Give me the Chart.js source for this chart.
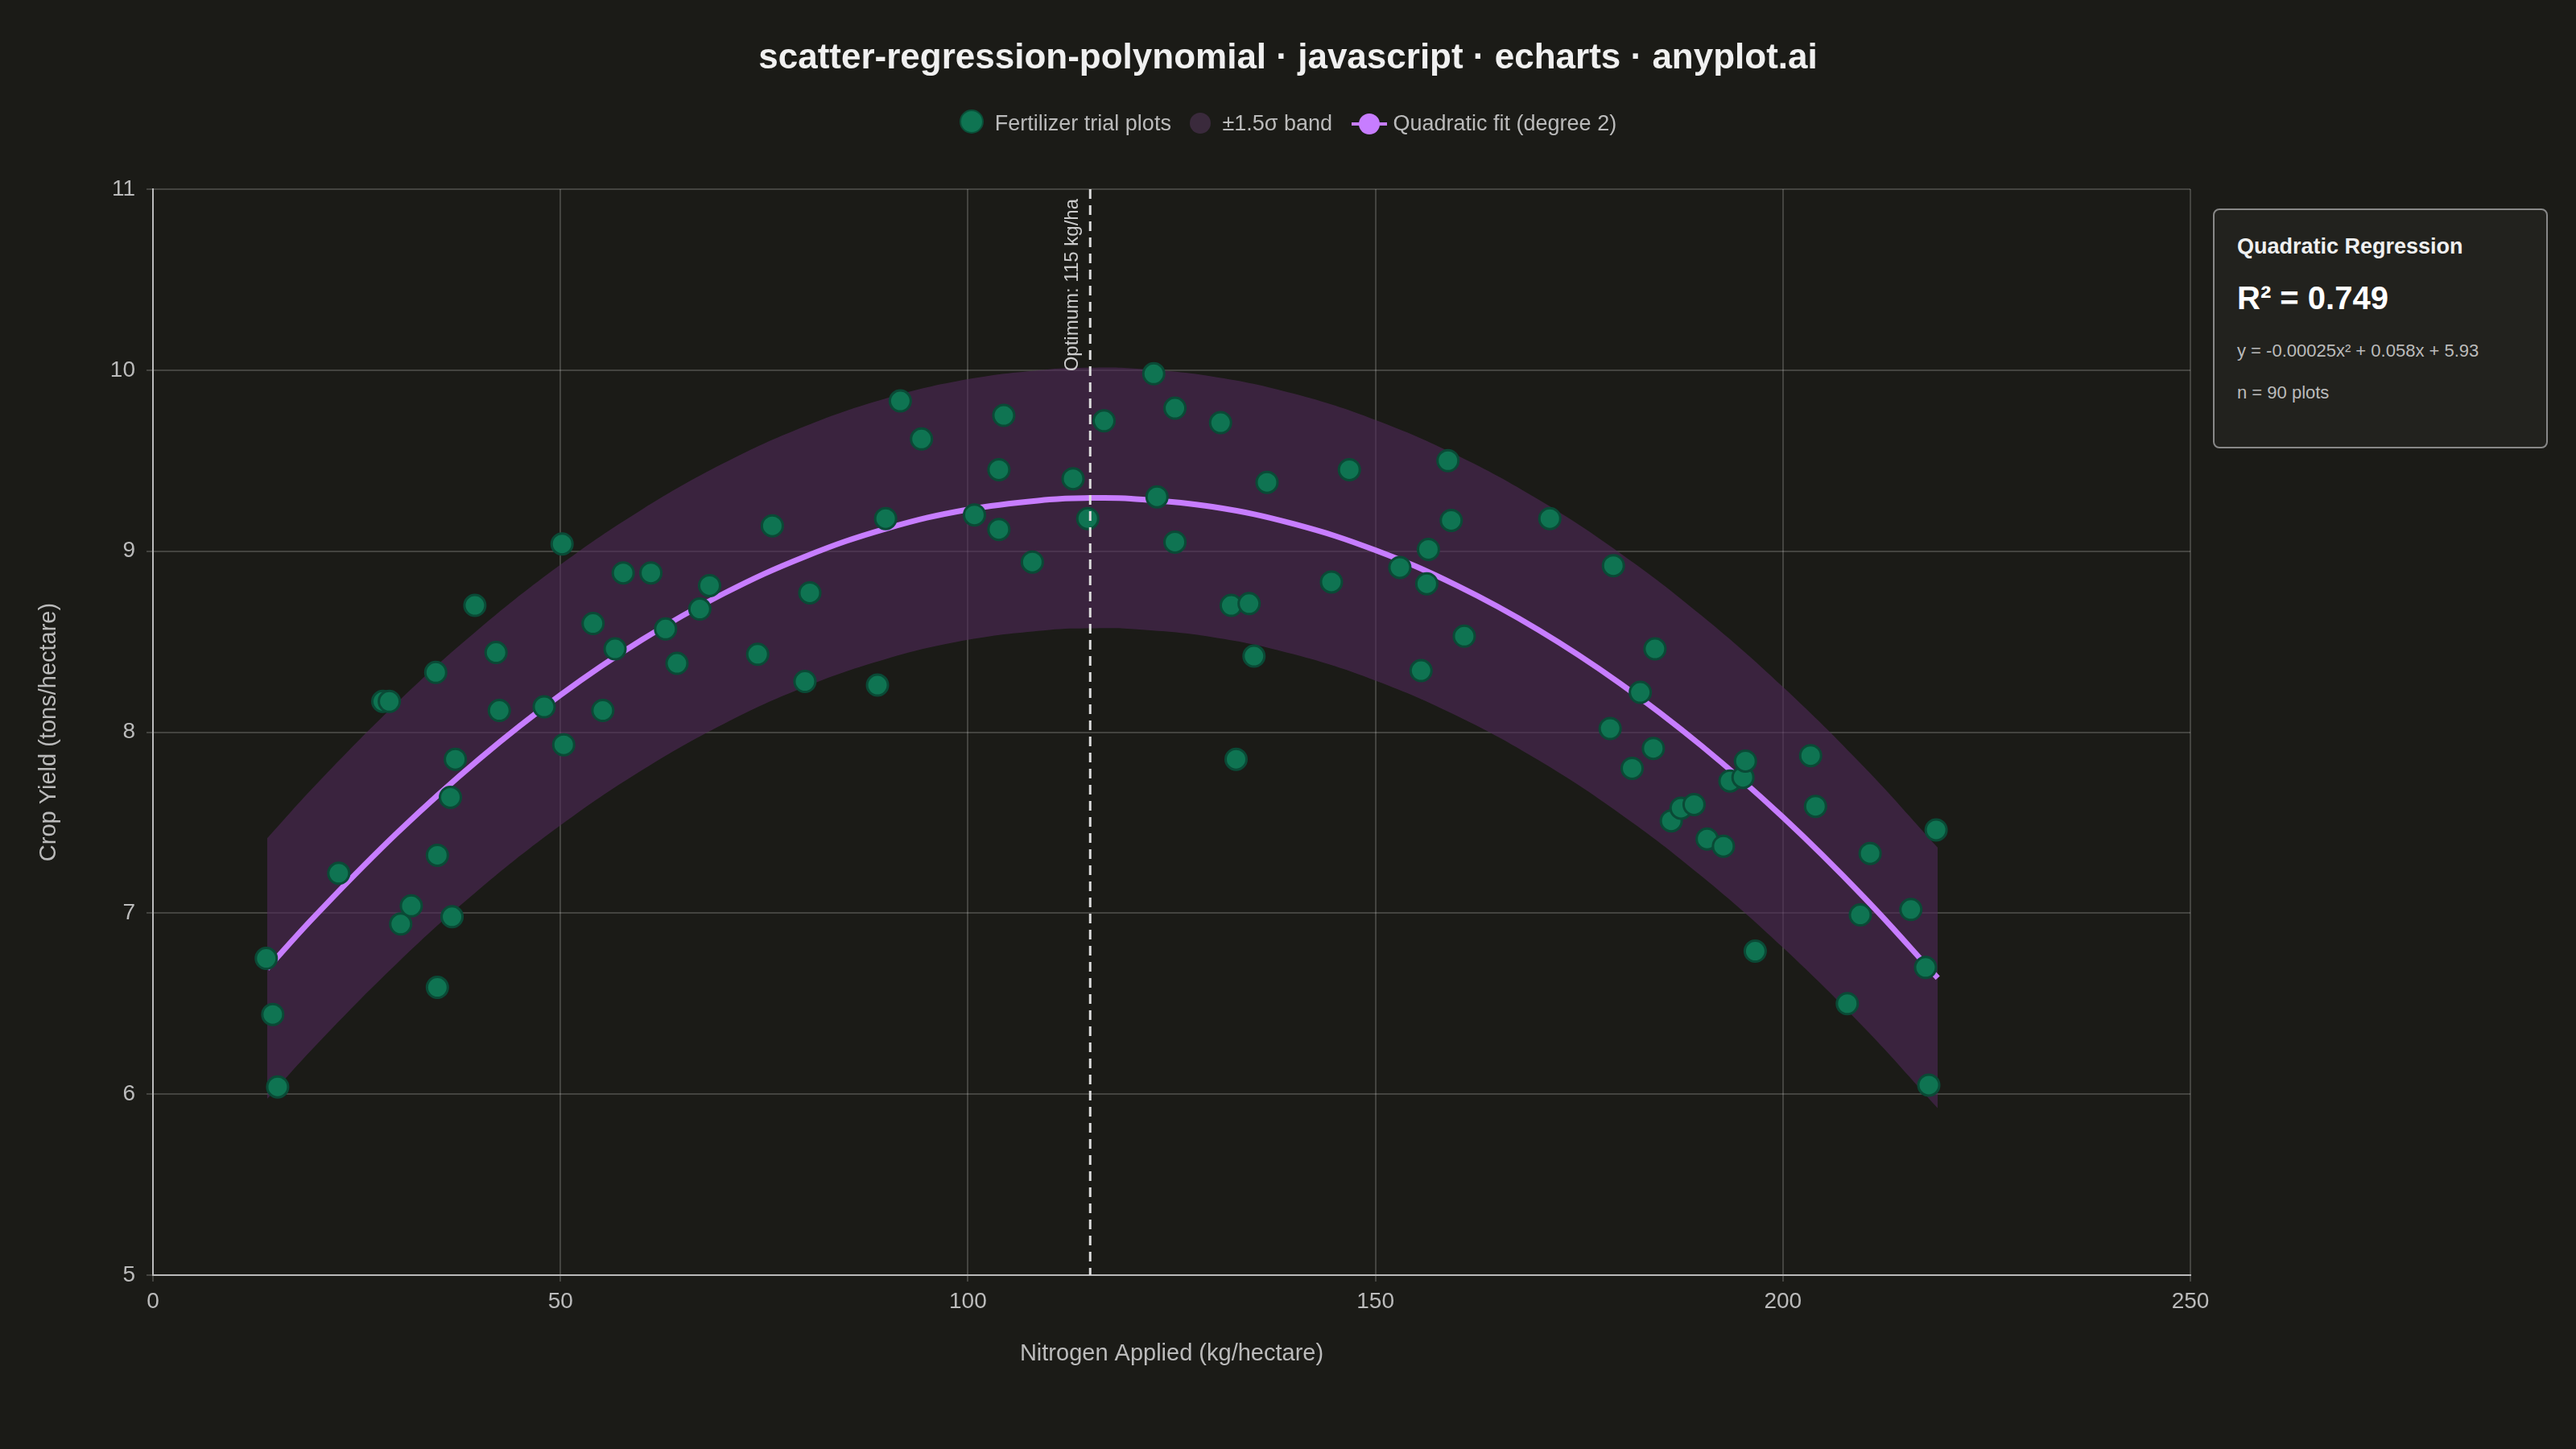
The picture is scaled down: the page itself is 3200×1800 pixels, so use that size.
<!DOCTYPE html>
<html>
<head>
<meta charset="utf-8">
<script src="https://cdn.jsdelivr.net/npm/chart.js@4/dist/chart.umd.min.js"></script>
<style>
  body { margin: 0; background: #1b1b17; font-family: "Liberation Sans", Arial, sans-serif; }
  #wrap { position: relative; width: 3200px; height: 1800px; }
  #title { position: absolute; top: 45px; width: 100%; text-align: center; color: #f0f0f0; font-size: 44px; font-weight: bold; }
  #legend { position: absolute; top: 136px; width: 100%; text-align: center; color: #bbbbbb; font-size: 27px; }
  #legend span.item { margin: 0 8px; }
  .dot { display: inline-block; width: 26px; height: 26px; border-radius: 50%; vertical-align: -4px; margin-right: 14px; }
  #box { position: absolute; left: 2749px; top: 259px; width: 416px; height: 298px; border: 2px solid #888; border-radius: 8px; background: #22221e; color: #ddd; box-sizing: border-box; padding: 30px 28px; }
  #box .h { font-size: 27px; font-weight: bold; color: #f0f0f0; }
  #box .r { font-size: 40px; font-weight: bold; color: #fff; margin-top: 26px; }
  #box .s { font-size: 22px; color: #bbb; margin-top: 30px; }
</style>
</head>
<body>
<div id="wrap">
  <canvas id="c" width="3200" height="1800"></canvas>
  <div id="title">scatter-regression-polynomial · javascript · echarts · anyplot.ai</div>
  <div id="legend">
    <span class="item"><span class="dot" style="background:#0f7452;border:2px solid #0a4f38"></span>Fertilizer trial plots</span>
    <span class="item"><span class="dot" style="background:#3a2a3c"></span>±1.5σ band</span>
    <span class="item"><span style="display:inline-block;position:relative;width:44px;height:26px;vertical-align:-5px;margin-right:8px"><span style="position:absolute;left:0;top:11px;width:44px;height:4px;background:#c77dff"></span><span style="position:absolute;left:9px;top:0;width:26px;height:26px;border-radius:50%;background:#c77dff"></span></span>Quadratic fit (degree 2)</span>
  </div>
  <div id="box">
    <div class="h">Quadratic Regression</div>
    <div class="r">R² = 0.749</div>
    <div class="s">y = -0.00025x² + 0.058x + 5.93</div>
    <div class="s" style="margin-top:26px">n = 90 plots</div>
  </div>
</div>
<script>
const nitrogen = [13.9,14.7,15.3,22.8,28.2,29.0,30.4,31.7,34.7,34.9,34.9,36.5,36.7,37.1,39.5,42.1,42.5,48.0,50.2,50.4,54.0,55.2,56.7,57.7,61.1,62.9,64.3,67.1,68.3,74.2,76.0,80.0,80.6,88.9,89.9,91.7,94.3,100.8,103.8,103.8,104.4,107.9,112.9,114.7,116.7,122.8,123.2,125.4,125.4,131.0,132.3,132.9,134.5,135.1,136.7,144.6,146.8,153.0,155.6,156.3,156.5,158.9,159.3,160.9,171.4,178.8,179.2,181.5,182.5,184.1,184.3,186.3,187.5,189.1,190.7,192.7,193.5,195.1,195.4,196.6,203.4,204.0,207.9,209.5,210.7,215.7,217.5,217.9,218.8];
const yieldVals = [6.75,6.44,6.04,7.22,8.17,8.17,6.94,7.04,8.33,7.32,6.59,7.64,6.98,7.85,8.70,8.44,8.12,8.14,9.04,7.93,8.60,8.12,8.46,8.88,8.88,8.57,8.38,8.68,8.81,8.43,9.14,8.28,8.77,8.26,9.18,9.83,9.62,9.20,9.45,9.12,9.75,8.94,9.40,9.18,9.72,9.98,9.30,9.05,9.79,9.71,8.70,7.85,8.71,8.42,9.38,8.83,9.45,8.91,8.34,8.82,9.01,9.50,9.17,8.53,9.18,8.02,8.92,7.80,8.22,7.91,8.46,7.51,7.58,7.60,7.41,7.37,7.73,7.75,7.84,6.79,7.87,7.59,6.50,6.99,7.33,7.02,6.70,6.05,7.46];
const coeffs = [-0.00025, 0.058, 5.93];
const bandHalf = 0.72;
const optimumX = 115;
const fitX = [14,20,30,40,50,60,70,80,90,100,110,115,120,130,140,150,160,170,180,190,200,210,219];
const xTicks = [0,50,100,150,200,250];

const fitY = fitX.map(x => coeffs[0]*x*x + coeffs[1]*x + coeffs[2]);
const pts = nitrogen.map((x, i) => ({ x, y: yieldVals[i] }));
const fitPts = fitX.map((x, i) => ({ x, y: fitY[i] }));
const upPts = fitX.map((x, i) => ({ x, y: fitY[i] + bandHalf }));
const loPts = fitX.map((x, i) => ({ x, y: fitY[i] - bandHalf }));

const optimumLine = {
  id: 'optimum',
  afterDatasetsDraw(chart) {
    const { ctx, chartArea, scales } = chart;
    const px = scales.x.getPixelForValue(optimumX);
    ctx.save();
    ctx.strokeStyle = '#dddddd';
    ctx.lineWidth = 3;
    ctx.setLineDash([12, 8]);
    ctx.beginPath();
    ctx.moveTo(px, chartArea.top);
    ctx.lineTo(px, chartArea.bottom);
    ctx.stroke();
    ctx.translate(px - 22, chartArea.top + 12);
    ctx.rotate(-Math.PI / 2);
    ctx.fillStyle = '#cccccc';
    ctx.font = '24px "Liberation Sans", Arial';
    ctx.textAlign = 'right';
    ctx.textBaseline = 'middle';
    ctx.fillText('Optimum: 115 kg/ha', 0, 0);
    ctx.restore();
  }
};

new Chart(document.getElementById('c'), {
  type: 'scatter',
  data: {
    datasets: [
      { data: upPts, showLine: true, borderWidth: 0, pointRadius: 0, tension: 0.4, fill: false, order: 3 },
      { data: loPts, showLine: true, borderWidth: 0, pointRadius: 0, tension: 0.4, fill: '-1', backgroundColor: 'rgba(80,42,88,0.6)', order: 3 },
      { data: fitPts, showLine: true, borderColor: '#c77dff', borderWidth: 7, pointRadius: 0, tension: 0.4, order: 2 },
      { data: pts, pointRadius: 13, backgroundColor: '#0f7452', borderColor: '#0a4a36', borderWidth: 3, order: 1 }
    ]
  },
  options: {
    responsive: false,
    animation: false,
    layout: { padding: { top: 235, left: 40, right: 479, bottom: 97 } },
    plugins: { legend: { display: false }, tooltip: { enabled: false } },
    scales: {
      x: {
        type: 'linear', min: 0, max: 250,
        afterBuildTicks: s => { s.ticks = xTicks.map(v => ({ value: v })); },
        afterFit: s => { s.height = 119; },
        grid: { color: 'rgba(255,255,255,0.18)', lineWidth: 2 },
        border: { color: '#bbbbbb', width: 2 },
        ticks: { color: '#bbbbbb', font: { size: 28 }, padding: 8 },
        title: { display: true, text: 'Nitrogen Applied (kg/hectare)', color: '#bbbbbb', font: { size: 29 }, padding: { top: 20 } }
      },
      y: {
        min: 5, max: 11,
        afterFit: s => { s.width = 150; },
        grid: { color: 'rgba(255,255,255,0.18)', lineWidth: 2 },
        border: { color: '#bbbbbb', width: 2 },
        ticks: { color: '#bbbbbb', font: { size: 28 }, stepSize: 1, padding: 14 },
        title: { display: true, text: 'Crop Yield (tons/hectare)', color: '#bbbbbb', font: { size: 29 }, padding: { bottom: 50 } }
      }
    }
  },
  plugins: [optimumLine]
});
</script>
</body>
</html>
